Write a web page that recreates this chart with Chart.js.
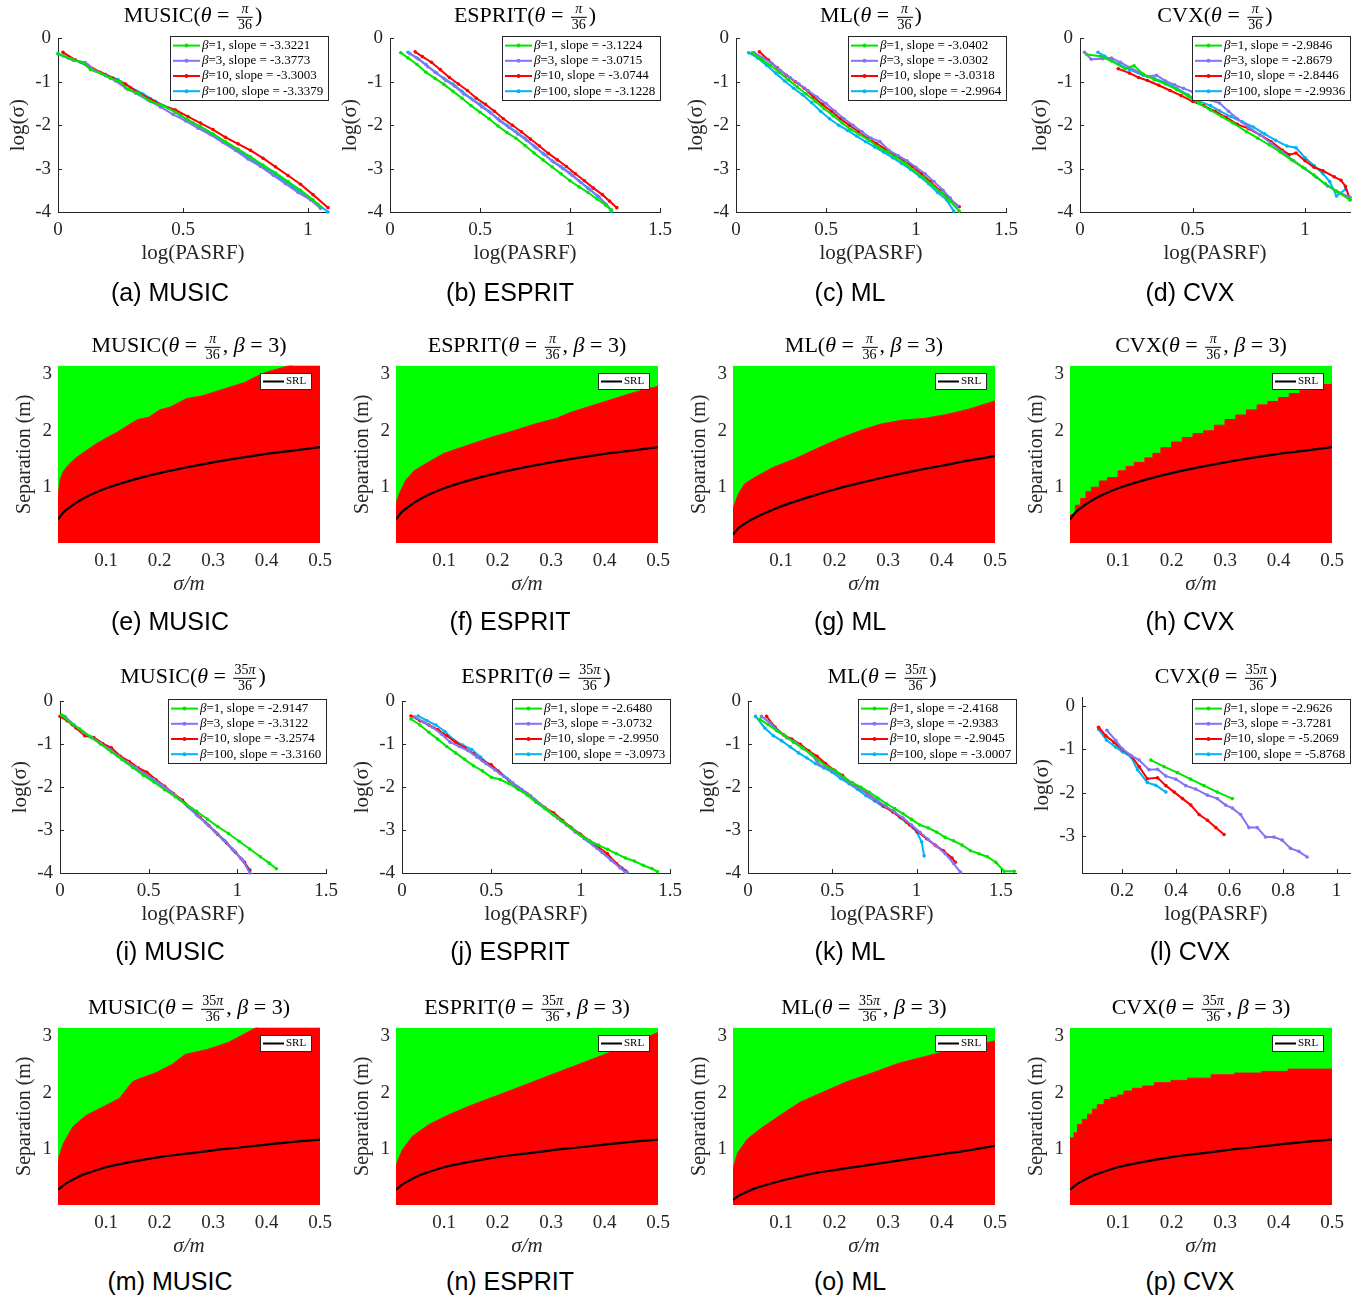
<!DOCTYPE html>
<html><head><meta charset="utf-8">
<script src="https://cdn.jsdelivr.net/npm/chart.js@4.4.1/dist/chart.umd.min.js"></script>
<style>
html,body{margin:0;padding:0;background:#fff;}
body{position:relative;width:1369px;height:1298px;overflow:hidden;}
canvas{position:absolute;}
.ttl{position:absolute;font-family:'Liberation Serif','Times New Roman',serif;font-size:22px;color:#000;white-space:nowrap;transform:translate(-50%,-50%);line-height:1;}
.frac{display:inline-block;vertical-align:middle;text-align:center;font-size:14px;line-height:1.05;margin:0 2px;}
.frac span{display:block;padding:0 1px;}
.frac span.num{border-bottom:1px solid #000;}
.cap{position:absolute;font-family:'Liberation Sans',Arial,sans-serif;font-size:25px;color:#000;white-space:nowrap;transform:translate(-50%,-50%);}
</style></head><body>
<script>
// ---------------- DATA ----------------
const METHODS = ['MUSIC', 'ESPRIT', 'ML', 'CVX'];
const BETAS = [1, 3, 10, 100];

const LOG_Y_TICKS = [0, -1, -2, -3, -4];
const LOG_X_TICKS_SHORT = [0, 0.5, 1];
const LOG_X_TICKS = [0, 0.5, 1, 1.5];
const CVX35_X_TICKS = [0.2, 0.4, 0.6, 0.8, 1];
const CVX35_Y_TICKS = [0, -1, -2, -3];
const MAP_X_TICKS = [0.1, 0.2, 0.3, 0.4, 0.5];
const MAP_Y_TICKS = [1, 2, 3];

const SLOPES_A = ['-3.3221', '-3.3773', '-3.3003', '-3.3379'];
const SLOPES_B = ['-3.1224', '-3.0715', '-3.0744', '-3.1228'];
const SLOPES_C = ['-3.0402', '-3.0302', '-3.0318', '-2.9964'];
const SLOPES_D = ['-2.9846', '-2.8679', '-2.8446', '-2.9936'];
const SLOPES_I = ['-2.9147', '-3.3122', '-3.2574', '-3.3160'];
const SLOPES_J = ['-2.6480', '-3.0732', '-2.9950', '-3.0973'];
const SLOPES_K = ['-2.4168', '-2.9383', '-2.9045', '-3.0007'];
const SLOPES_L = ['-2.9626', '-3.7281', '-5.2069', '-5.8768'];

// (a) MUSIC theta=pi/36
const A1X = [0.00,0.05,0.10,0.13,0.17,0.21,0.25,0.28,0.32,0.37,0.42,0.47,0.52,0.57,0.62,0.67,0.72,0.77,0.82,0.87,0.92,0.97,1.02,1.05];
const A1Y = [-0.36,-0.47,-0.56,-0.72,-0.80,-0.92,-1.00,-1.18,-1.26,-1.45,-1.55,-1.70,-1.88,-2.03,-2.20,-2.38,-2.55,-2.73,-2.92,-3.10,-3.30,-3.50,-3.72,-3.88];
const A3X = [0.02,0.06,0.11,0.15,0.19,0.23,0.27,0.31,0.36,0.41,0.46,0.51,0.56,0.61,0.66,0.71,0.76,0.81,0.86,0.91,0.96,1.01,1.05];
const A3Y = [-0.40,-0.50,-0.56,-0.75,-0.86,-0.98,-1.14,-1.26,-1.42,-1.58,-1.75,-1.90,-2.07,-2.22,-2.40,-2.58,-2.78,-2.95,-3.15,-3.35,-3.55,-3.72,-3.92];
const A10X = [0.02,0.07,0.12,0.17,0.22,0.27,0.32,0.37,0.42,0.47,0.52,0.57,0.62,0.67,0.72,0.77,0.82,0.87,0.92,0.97,1.02,1.08];
const A10Y = [-0.32,-0.50,-0.62,-0.78,-0.92,-1.05,-1.25,-1.40,-1.55,-1.65,-1.80,-1.95,-2.10,-2.28,-2.43,-2.58,-2.76,-2.96,-3.16,-3.36,-3.60,-3.90];
const A100X = [0.00,0.04,0.09,0.14,0.19,0.24,0.29,0.34,0.39,0.44,0.49,0.54,0.59,0.64,0.69,0.74,0.79,0.84,0.89,0.94,0.99,1.04,1.08];
const A100Y = [-0.35,-0.45,-0.55,-0.72,-0.83,-0.95,-1.13,-1.28,-1.45,-1.60,-1.78,-1.95,-2.12,-2.30,-2.48,-2.66,-2.85,-3.04,-3.22,-3.42,-3.62,-3.82,-4.00];

// (b) ESPRIT theta=pi/36
const B1X = [0.06,0.10,0.15,0.20,0.25,0.30,0.35,0.40,0.45,0.50,0.55,0.60,0.65,0.70,0.75,0.80,0.85,0.90,0.95,1.00,1.05,1.10,1.15,1.20,1.23];
const B1Y = [-0.33,-0.45,-0.60,-0.78,-0.92,-1.06,-1.22,-1.38,-1.55,-1.70,-1.85,-2.02,-2.17,-2.30,-2.47,-2.64,-2.80,-2.96,-3.12,-3.28,-3.42,-3.55,-3.70,-3.85,-3.96];
const B3X = [0.11,0.16,0.21,0.26,0.31,0.36,0.41,0.46,0.51,0.56,0.61,0.66,0.71,0.76,0.81,0.86,0.91,0.96,1.01,1.06,1.11,1.16,1.23];
const B3Y = [-0.35,-0.48,-0.65,-0.80,-0.97,-1.10,-1.28,-1.42,-1.58,-1.72,-1.90,-2.05,-2.20,-2.35,-2.52,-2.68,-2.85,-3.00,-3.15,-3.32,-3.48,-3.65,-3.95];
const B10X = [0.14,0.18,0.23,0.28,0.33,0.38,0.43,0.48,0.53,0.58,0.63,0.68,0.73,0.78,0.83,0.88,0.93,0.98,1.03,1.08,1.13,1.18,1.22,1.26];
const B10Y = [-0.31,-0.42,-0.55,-0.72,-0.90,-1.05,-1.20,-1.38,-1.52,-1.68,-1.85,-2.00,-2.15,-2.32,-2.48,-2.65,-2.80,-2.95,-3.12,-3.28,-3.45,-3.60,-3.75,-3.90];
const B100X = [0.10,0.15,0.20,0.25,0.30,0.35,0.40,0.45,0.50,0.55,0.60,0.65,0.70,0.75,0.80,0.85,0.90,0.95,1.00,1.05,1.10,1.15,1.20,1.23];
const B100Y = [-0.32,-0.45,-0.60,-0.78,-0.92,-1.05,-1.22,-1.38,-1.52,-1.68,-1.85,-2.00,-2.15,-2.30,-2.48,-2.65,-2.82,-2.95,-3.10,-3.28,-3.45,-3.62,-3.82,-3.98];

// (c) ML theta=pi/36
const C1X = [0.09,0.14,0.19,0.24,0.29,0.34,0.39,0.44,0.49,0.54,0.59,0.64,0.69,0.74,0.79,0.84,0.89,0.94,0.99,1.04,1.09,1.14,1.19,1.24];
const C1Y = [-0.33,-0.48,-0.62,-0.78,-0.95,-1.12,-1.28,-1.45,-1.62,-1.78,-1.95,-2.10,-2.22,-2.35,-2.50,-2.62,-2.75,-2.88,-3.05,-3.20,-3.38,-3.55,-3.75,-3.98];
const C3X = [0.10,0.15,0.20,0.25,0.30,0.35,0.40,0.45,0.50,0.55,0.60,0.65,0.70,0.75,0.80,0.85,0.90,0.95,1.00,1.05,1.10,1.15,1.19,1.23];
const C3Y = [-0.33,-0.45,-0.58,-0.75,-0.90,-1.05,-1.20,-1.35,-1.50,-1.68,-1.85,-2.00,-2.15,-2.30,-2.38,-2.58,-2.70,-2.82,-2.97,-3.12,-3.30,-3.50,-3.68,-3.87];
const C10X = [0.13,0.18,0.23,0.28,0.33,0.38,0.43,0.48,0.53,0.58,0.63,0.68,0.73,0.78,0.83,0.88,0.93,0.98,1.03,1.08,1.13,1.18,1.24];
const C10Y = [-0.31,-0.50,-0.68,-0.85,-1.00,-1.15,-1.35,-1.52,-1.68,-1.85,-2.00,-2.15,-2.30,-2.42,-2.55,-2.68,-2.80,-2.95,-3.12,-3.30,-3.50,-3.68,-3.88];
const C100X = [0.07,0.12,0.17,0.22,0.27,0.32,0.37,0.42,0.47,0.52,0.57,0.62,0.67,0.72,0.77,0.82,0.87,0.92,0.97,1.02,1.07,1.12,1.17,1.21];
const C100Y = [-0.33,-0.45,-0.62,-0.80,-0.98,-1.15,-1.30,-1.48,-1.68,-1.85,-2.00,-2.12,-2.25,-2.38,-2.50,-2.62,-2.75,-2.88,-3.02,-3.18,-3.35,-3.55,-3.72,-3.98];

// (d) CVX theta=pi/36
const D1X = [0.03,0.09,0.14,0.20,0.24,0.28,0.33,0.38,0.43,0.48,0.53,0.58,0.63,0.68,0.74,0.79,0.84,0.89,0.94,0.99,1.04,1.09,1.14,1.20];
const D1Y = [-0.37,-0.41,-0.52,-0.70,-0.63,-0.82,-0.95,-1.05,-1.18,-1.33,-1.50,-1.65,-1.80,-1.95,-2.15,-2.30,-2.45,-2.62,-2.80,-2.97,-3.15,-3.35,-3.52,-3.72];
const D3X = [0.02,0.05,0.10,0.14,0.18,0.22,0.26,0.30,0.34,0.38,0.42,0.46,0.50,0.54,0.58,0.62,0.66,0.70,0.75,0.80,0.85,0.90,0.95,1.00,1.05,1.10,1.15,1.20];
const D3Y = [-0.32,-0.48,-0.47,-0.45,-0.55,-0.67,-0.78,-0.88,-0.85,-0.98,-1.07,-1.15,-1.23,-1.30,-1.42,-1.49,-1.68,-1.85,-2.05,-2.22,-2.42,-2.62,-2.82,-3.00,-3.20,-3.40,-3.55,-3.66];
const D10X = [0.17,0.22,0.26,0.30,0.35,0.40,0.45,0.50,0.55,0.60,0.65,0.70,0.75,0.80,0.85,0.90,0.93,0.96,1.00,1.04,1.08,1.13,1.16,1.18,1.20];
const D10Y = [-0.70,-0.80,-0.90,-0.97,-1.08,-1.20,-1.32,-1.45,-1.55,-1.68,-1.82,-1.98,-2.08,-2.22,-2.38,-2.58,-2.68,-2.64,-2.82,-2.97,-3.05,-3.19,-3.27,-3.41,-3.72];
const D100X = [0.08,0.11,0.14,0.17,0.22,0.28,0.33,0.38,0.43,0.48,0.53,0.58,0.62,0.67,0.72,0.77,0.82,0.87,0.92,0.96,1.00,1.04,1.08,1.11,1.14,1.18];
const D100Y = [-0.32,-0.41,-0.50,-0.59,-0.72,-0.85,-0.92,-1.02,-1.15,-1.30,-1.45,-1.55,-1.67,-1.80,-1.92,-2.04,-2.20,-2.35,-2.48,-2.52,-2.75,-2.93,-3.12,-3.30,-3.63,-3.48];

// (i) MUSIC theta=35pi/36
const I1X = [0.01,0.06,0.11,0.17,0.23,0.29,0.35,0.41,0.47,0.53,0.59,0.65,0.71,0.77,0.83,0.89,0.95,1.01,1.07,1.13,1.18,1.22];
const I1Y = [-0.32,-0.50,-0.64,-0.82,-1.00,-1.18,-1.36,-1.54,-1.72,-1.88,-2.06,-2.22,-2.40,-2.56,-2.74,-2.92,-3.08,-3.26,-3.44,-3.62,-3.77,-3.90];
const I3X = [0.03,0.08,0.13,0.18,0.23,0.28,0.33,0.38,0.43,0.48,0.53,0.58,0.63,0.68,0.73,0.78,0.83,0.88,0.93,0.98,1.03,1.07];
const I3Y = [-0.36,-0.55,-0.72,-0.85,-0.98,-1.12,-1.28,-1.42,-1.55,-1.70,-1.82,-1.97,-2.12,-2.30,-2.48,-2.68,-2.86,-3.06,-3.25,-3.48,-3.70,-4.00];
const I10X = [0.00,0.04,0.09,0.14,0.19,0.24,0.29,0.34,0.39,0.44,0.49,0.54,0.59,0.64,0.69,0.74,0.79,0.84,0.89,0.94,0.99,1.04,1.07];
const I10Y = [-0.35,-0.45,-0.62,-0.80,-0.84,-0.98,-1.08,-1.28,-1.40,-1.55,-1.65,-1.82,-1.98,-2.15,-2.30,-2.50,-2.70,-2.90,-3.10,-3.30,-3.52,-3.75,-3.95];
const I100X = [0.02,0.07,0.12,0.17,0.22,0.27,0.32,0.37,0.42,0.47,0.52,0.57,0.62,0.67,0.72,0.77,0.82,0.87,0.92,0.97,1.02,1.07];
const I100Y = [-0.34,-0.55,-0.68,-0.82,-0.95,-1.10,-1.25,-1.40,-1.52,-1.66,-1.80,-1.94,-2.10,-2.27,-2.45,-2.64,-2.82,-3.02,-3.22,-3.44,-3.66,-3.92];

// (j) ESPRIT theta=35pi/36
const J1X = [0.05,0.10,0.15,0.20,0.25,0.30,0.35,0.40,0.45,0.50,0.55,0.60,0.65,0.70,0.75,0.80,0.85,0.90,0.95,1.00,1.05,1.10,1.15,1.20,1.25,1.30,1.35,1.40,1.43];
const J1Y = [-0.41,-0.55,-0.72,-0.88,-1.05,-1.20,-1.35,-1.50,-1.62,-1.77,-1.82,-1.92,-2.05,-2.18,-2.35,-2.50,-2.65,-2.80,-2.96,-3.12,-3.25,-3.35,-3.45,-3.55,-3.65,-3.72,-3.82,-3.90,-3.97];
const J3X = [0.07,0.12,0.17,0.22,0.27,0.32,0.37,0.42,0.47,0.52,0.57,0.62,0.67,0.72,0.77,0.82,0.87,0.92,0.97,1.02,1.07,1.12,1.17,1.22,1.25];
const J3Y = [-0.36,-0.48,-0.60,-0.76,-0.95,-1.05,-1.15,-1.30,-1.45,-1.60,-1.75,-1.90,-2.05,-2.20,-2.38,-2.55,-2.72,-2.88,-3.05,-3.20,-3.35,-3.52,-3.70,-3.88,-3.98];
const J10X = [0.05,0.10,0.15,0.20,0.25,0.30,0.35,0.40,0.45,0.50,0.55,0.60,0.65,0.70,0.75,0.80,0.85,0.90,0.95,1.00,1.05,1.10,1.15,1.20,1.25];
const J10Y = [-0.34,-0.45,-0.55,-0.66,-0.80,-0.95,-1.08,-1.22,-1.38,-1.48,-1.68,-1.85,-2.00,-2.15,-2.32,-2.48,-2.60,-2.78,-2.95,-3.10,-3.25,-3.40,-3.55,-3.78,-3.95];
const J100X = [0.09,0.14,0.19,0.24,0.29,0.34,0.39,0.44,0.49,0.54,0.59,0.64,0.69,0.74,0.79,0.84,0.89,0.94,0.99,1.04,1.09,1.14,1.19,1.23,1.26];
const J100Y = [-0.34,-0.45,-0.55,-0.70,-0.90,-1.02,-1.12,-1.30,-1.48,-1.62,-1.80,-1.98,-2.12,-2.28,-2.45,-2.62,-2.78,-2.92,-3.08,-3.25,-3.42,-3.58,-3.75,-3.88,-3.98];

// (k) ML theta=35pi/36
const K1X = [0.07,0.12,0.17,0.22,0.27,0.32,0.37,0.42,0.47,0.52,0.57,0.62,0.67,0.72,0.77,0.82,0.87,0.92,0.97,1.02,1.07,1.12,1.17,1.22,1.27,1.32,1.37,1.42,1.47,1.52,1.58];
const K1Y = [-0.42,-0.54,-0.68,-0.80,-0.95,-1.08,-1.22,-1.38,-1.52,-1.62,-1.78,-1.90,-2.00,-2.12,-2.25,-2.38,-2.50,-2.62,-2.75,-2.88,-2.95,-3.05,-3.17,-3.25,-3.35,-3.48,-3.55,-3.62,-3.75,-3.96,-3.96];
const K3X = [0.08,0.13,0.18,0.23,0.28,0.33,0.38,0.42,0.47,0.52,0.57,0.62,0.67,0.72,0.77,0.82,0.87,0.92,0.97,1.02,1.07,1.12,1.17,1.22,1.26];
const K3Y = [-0.35,-0.50,-0.70,-0.85,-0.95,-1.10,-1.25,-1.47,-1.55,-1.65,-1.80,-1.95,-2.05,-2.20,-2.32,-2.45,-2.58,-2.72,-2.88,-3.05,-3.22,-3.38,-3.55,-3.78,-3.98];
const K10X = [0.11,0.16,0.21,0.26,0.31,0.36,0.41,0.46,0.51,0.56,0.61,0.66,0.71,0.76,0.81,0.86,0.91,0.96,1.01,1.06,1.11,1.16,1.21,1.23];
const K10Y = [-0.35,-0.60,-0.78,-0.88,-1.00,-1.15,-1.28,-1.45,-1.60,-1.72,-1.90,-2.02,-2.15,-2.30,-2.45,-2.58,-2.72,-2.88,-3.05,-3.20,-3.35,-3.48,-3.65,-3.75];
const K100X = [0.045,0.10,0.15,0.20,0.25,0.30,0.35,0.40,0.45,0.50,0.55,0.60,0.65,0.70,0.75,0.80,0.86,0.90,0.94,0.98,1.00,1.03,1.045];
const K100Y = [-0.35,-0.62,-0.80,-0.92,-1.06,-1.20,-1.32,-1.45,-1.55,-1.65,-1.80,-1.92,-2.05,-2.20,-2.32,-2.45,-2.55,-2.70,-2.82,-2.95,-3.04,-3.27,-3.60];

// (l) CVX theta=35pi/36
const L1X = [0.307,0.356,0.406,0.455,0.505,0.555,0.611];
const L1Y = [-1.25,-1.40,-1.54,-1.69,-1.84,-1.99,-2.14];
const L3X = [0.143,0.176,0.201,0.232,0.263,0.300,0.332,0.363,0.400,0.437,0.474,0.518,0.555,0.586,0.611,0.642,0.673,0.704,0.735,0.766,0.797,0.828,0.859,0.890];
const L3Y = [-0.56,-0.80,-0.99,-1.14,-1.25,-1.47,-1.46,-1.62,-1.69,-1.84,-1.92,-2.06,-2.14,-2.29,-2.36,-2.51,-2.81,-2.81,-3.03,-3.03,-3.10,-3.29,-3.36,-3.49];
const L10X = [0.112,0.139,0.170,0.201,0.235,0.263,0.294,0.332,0.363,0.394,0.425,0.456,0.487,0.518,0.549,0.580];
const L10Y = [-0.49,-0.69,-0.84,-1.01,-1.16,-1.40,-1.68,-1.66,-1.84,-1.99,-2.14,-2.29,-2.51,-2.64,-2.81,-2.97];
const L100X = [0.112,0.142,0.176,0.201,0.232,0.257,0.294,0.325,0.363];
const L100Y = [-0.54,-0.79,-0.95,-1.06,-1.17,-1.47,-1.77,-1.83,-1.99];

// Resolution maps: boundary between green (resolved) and red (not resolved)
const E_BX = [0.01,0.014,0.02,0.03,0.045,0.06,0.08,0.1,0.12,0.135,0.15,0.16,0.18,0.2,0.22,0.24,0.25,0.28,0.3,0.34,0.36,0.38,0.4,0.43,0.46,0.5];
const E_BY = [0.85,1.13,1.28,1.4,1.53,1.63,1.76,1.87,1.97,2.06,2.15,2.2,2.24,2.37,2.42,2.52,2.57,2.62,2.68,2.8,2.86,2.96,3.04,3.12,3.2,3.3];
const F_BX = [0.01,0.016,0.028,0.044,0.068,0.1,0.14,0.19,0.23,0.27,0.31,0.335,0.375,0.415,0.455,0.5];
const F_BY = [0.71,0.88,1.12,1.29,1.43,1.6,1.73,1.89,2.0,2.12,2.22,2.32,2.44,2.56,2.68,2.79];
const G_BX = [0.01,0.02,0.032,0.052,0.085,0.125,0.166,0.206,0.247,0.287,0.328,0.369,0.41,0.45,0.5];
const G_BY = [0.62,0.88,1.06,1.18,1.35,1.5,1.68,1.85,2.0,2.12,2.19,2.22,2.29,2.38,2.53];
const H_BX = [0.01,0.02,0.03,0.04,0.05,0.065,0.08,0.1,0.115,0.13,0.15,0.165,0.18,0.2,0.22,0.24,0.26,0.28,0.3,0.32,0.34,0.36,0.38,0.4,0.42,0.44,0.46,0.48,0.5];
const H_BY = [0.51,0.68,0.8,0.92,1.0,1.11,1.17,1.29,1.37,1.44,1.52,1.6,1.7,1.8,1.88,1.95,2.0,2.1,2.2,2.28,2.37,2.46,2.52,2.59,2.66,2.72,2.77,2.82,2.86];
const M_BX = [0.01,0.02,0.038,0.063,0.094,0.125,0.137,0.15,0.16,0.192,0.223,0.248,0.29,0.328,0.358,0.389,0.5];
const M_BY = [0.81,1.1,1.4,1.6,1.75,1.9,2.05,2.2,2.24,2.35,2.5,2.68,2.77,2.89,3.04,3.2,3.3];
const N_BX = [0.01,0.022,0.041,0.072,0.109,0.146,0.196,0.246,0.295,0.345,0.395,0.444,0.5];
const N_BY = [0.72,0.99,1.23,1.44,1.61,1.76,1.94,2.12,2.3,2.48,2.66,2.84,3.07];
const O_BX = [0.01,0.019,0.037,0.061,0.098,0.135,0.178,0.221,0.27,0.319,0.368,0.417,0.466,0.5];
const O_BY = [0.66,0.94,1.18,1.36,1.6,1.83,2.01,2.19,2.35,2.52,2.64,2.76,2.85,2.92];
const P_BX = [0.01,0.0175,0.024,0.033,0.043,0.052,0.061,0.074,0.086,0.099,0.111,0.127,0.146,0.168,0.199,0.23,0.274,0.318,0.368,0.418,0.468,0.5];
const P_BY = [1.02,1.2,1.29,1.44,1.53,1.62,1.71,1.79,1.88,1.92,1.96,2.03,2.08,2.12,2.18,2.22,2.26,2.32,2.35,2.38,2.42,2.42];

// SRL curves
const SRL_X = [0.01,0.02,0.03,0.04,0.05,0.07,0.1,0.15,0.2,0.25,0.3,0.35,0.4,0.45,0.5];
const SRL_PI36_Y = [0.43,0.55,0.63,0.70,0.76,0.86,0.98,1.13,1.25,1.35,1.44,1.52,1.59,1.65,1.71];
const SRL_ML_PI36_Y = [0.16,0.27,0.34,0.40,0.45,0.54,0.66,0.82,0.96,1.08,1.19,1.29,1.38,1.47,1.55];
const SRL_35PI_Y = [0.28,0.36,0.42,0.47,0.52,0.59,0.68,0.78,0.86,0.92,0.98,1.03,1.08,1.13,1.17];
const SRL_ML_35PI_Y = [0.10,0.17,0.22,0.26,0.30,0.36,0.44,0.55,0.63,0.70,0.77,0.84,0.91,0.98,1.06];

// ---------------- STYLE / LAYOUT ----------------
const FONT = "'Liberation Serif','Times New Roman',serif";
const AX = '#262626';
const SERIES_COLORS = ['#00e600', '#8473f5', '#ff0000', '#00b4f5'];
const RED = '#ff0000', GREEN = '#00ff00';
Chart.defaults.font.family = FONT;

const innerTicks = {
  id: 'innerTicks',
  afterDraw(chart) {
    const {ctx, chartArea: ca, scales: {x, y}} = chart;
    ctx.save(); ctx.strokeStyle = AX; ctx.lineWidth = 1; ctx.beginPath();
    x.ticks.forEach(t => { const px = Math.round(x.getPixelForValue(t.value)) + 0.5; ctx.moveTo(px, ca.bottom); ctx.lineTo(px, ca.bottom - 4); });
    y.ticks.forEach(t => { const py = Math.round(y.getPixelForValue(t.value)) + 0.5; ctx.moveTo(ca.left, py); ctx.lineTo(ca.left + 4, py); });
    ctx.stroke(); ctx.restore();
  }
};

const boxLegend = {
  id: 'boxLegend',
  afterDraw(chart, args, o) {
    const items = o.items; if (!items) return;
    const ctx = chart.ctx, ca = chart.chartArea;
    const fN = o.fontSize + 'px ' + FONT, fI = 'italic ' + o.fontSize + 'px ' + FONT;
    ctx.save();
    let maxW = 0;
    items.forEach(it => {
      ctx.font = fI; it._w1 = it.sym ? ctx.measureText(it.sym).width : 0;
      ctx.font = fN; it._w = it._w1 + ctx.measureText(it.rest).width;
      maxW = Math.max(maxW, it._w);
    });
    const bw = Math.round(3 + o.sample + 2 + maxW + 5), bh = Math.round(items.length * o.rowH + 3);
    const bx = Math.round(ca.right - o.dr - bw), by = Math.round(ca.top + o.dt);
    ctx.fillStyle = '#fff'; ctx.fillRect(bx, by, bw, bh);
    ctx.strokeStyle = AX; ctx.lineWidth = 1; ctx.strokeRect(bx + 0.5, by + 0.5, bw, bh);
    items.forEach((it, i) => {
      const cy = by + 2 + o.rowH * (i + 0.5);
      ctx.strokeStyle = it.color; ctx.lineWidth = o.lw;
      ctx.beginPath(); ctx.moveTo(bx + 3, cy); ctx.lineTo(bx + 3 + o.sample, cy); ctx.stroke();
      if (o.marker) { ctx.fillStyle = it.color; ctx.beginPath(); ctx.arc(bx + 3 + o.sample / 2, cy, 2, 0, Math.PI * 2); ctx.fill(); }
      ctx.fillStyle = '#000'; ctx.textBaseline = 'middle'; ctx.textAlign = 'left';
      let tx = bx + 3 + o.sample + 2;
      if (it.sym) { ctx.font = fI; ctx.fillText(it.sym, tx, cy); tx += it._w1; }
      ctx.font = fN; ctx.fillText(it.rest, tx, cy);
    });
    ctx.restore();
  }
};

function scaleCfg(axis, min, max, ticks, title, italic, size, showBorder, pad, titleSize) {
  return {
    type: 'linear', min: min, max: max,
    afterBuildTicks: s => { s.ticks = ticks.map(v => ({value: v})); },
    afterFit: s => { if (axis === 'x') s.height = size; else s.width = size; },
    grid: {display: false, drawTicks: false},
    border: {display: showBorder, color: AX, width: 1},
    ticks: {autoSkip: false, maxRotation: 0, padding: pad, color: AX, font: {family: FONT, size: 19}, callback: v => String(v)},
    title: {display: true, text: title, color: AX, font: {family: FONT, size: titleSize, style: italic ? 'italic' : 'normal'}, padding: {top: 0, bottom: 2}}
  };
}

function addCanvas(L, R, T, B, YW, XH, PT, PR) {
  const cv = document.createElement('canvas');
  const w = (R - L) + YW + PR, h = (B - T) + PT + XH;
  cv.width = w; cv.height = h;
  cv.style.left = (L - YW) + 'px'; cv.style.top = (T - PT) + 'px';
  cv.style.width = w + 'px'; cv.style.height = h + 'px';
  document.body.appendChild(cv);
  return cv;
}

function fracHTML(num) { return '<span class="frac"><span class="num">' + num + '</span><span>36</span></span>'; }
function addTitle(html, x, y) { const d = document.createElement('div'); d.className = 'ttl'; d.innerHTML = html; d.style.left = x + 'px'; d.style.top = y + 'px'; document.body.appendChild(d); }
function addCaption(text, x, y) { const d = document.createElement('div'); d.className = 'cap'; d.textContent = text; d.style.left = x + 'px'; d.style.top = y + 'px'; document.body.appendChild(d); }

function linePanel(p) {
  const YW = 52, XH = 56, PT = 14, PR = 26;
  const cv = addCanvas(p.L, p.R, p.T, p.B, YW, XH, PT, PR);
  const datasets = p.series.map((s, i) => ({
    label: 'β=' + BETAS[i],
    data: s[0].map((xv, k) => ({x: xv, y: s[1][k]})),
    borderColor: SERIES_COLORS[i], backgroundColor: SERIES_COLORS[i],
    borderWidth: 2, pointRadius: 1.8, pointBorderWidth: 0, pointHoverRadius: 0,
    fill: false, tension: 0, clip: 5
  }));
  new Chart(cv, {
    type: 'line', data: {datasets},
    options: {
      responsive: false, animation: false, devicePixelRatio: 1, events: [],
      layout: {padding: {left: 0, top: PT, right: PR, bottom: 0}},
      plugins: {
        legend: {display: false}, tooltip: {enabled: false},
        boxLegend: {items: BETAS.map((b, i) => ({color: SERIES_COLORS[i], sym: 'β', rest: '=' + b + ', slope = ' + p.slopes[i]})),
          fontSize: 13, rowH: 15.2, sample: 27, lw: 2, marker: true, dr: 0, dt: p.dt}
      },
      scales: {
        x: scaleCfg('x', p.xmin, p.xmax, p.xt, 'log(PASRF)', false, XH, true, 7, 21),
        y: scaleCfg('y', p.ymin, p.ymax, p.yt, 'log(σ)', false, YW, true, 7, 21)
      }
    },
    plugins: [innerTicks, boxLegend]
  });
  addTitle(p.title, (p.L + p.R) / 2, p.ty);
}

function mapPanel(p) {
  const YW = 45, XH = 56, PT = 14, PR = 26;
  const cv = addCanvas(p.L, p.R, p.T, p.B, YW, XH, PT, PR);
  const bnd = p.bx.map((xv, k) => ({x: xv, y: p.by[k]}));
  const srl = SRL_X.map((xv, k) => ({x: xv, y: p.srl[k]}));
  new Chart(cv, {
    type: 'line',
    data: {datasets: [
      {label: 'SRL', data: srl, borderColor: '#000', borderWidth: 2.2, pointRadius: 0, fill: false, cubicInterpolationMode: 'monotone'},
      {label: 'not resolved', data: bnd, fill: 'start', backgroundColor: RED, borderColor: RED, borderWidth: 1, pointRadius: 0, stepped: p.stepped || false},
      {label: 'resolved', data: bnd, fill: 'end', backgroundColor: GREEN, borderWidth: 0, pointRadius: 0, stepped: p.stepped || false}
    ]},
    options: {
      responsive: false, animation: false, devicePixelRatio: 1, events: [],
      layout: {padding: {left: 0, top: PT, right: PR, bottom: 0}},
      plugins: {
        legend: {display: false}, tooltip: {enabled: false},
        filler: {drawTime: 'beforeDatasetsDraw'},
        boxLegend: {items: [{color: '#000', sym: '', rest: 'SRL'}], fontSize: 11, rowH: 13, sample: 21, lw: 2, marker: false, dr: 9, dt: 8}
      },
      scales: {
        x: scaleCfg('x', 0.01, 0.5, MAP_X_TICKS, 'σ/m', true, XH, false, 7, 21),
        y: scaleCfg('y', 0.01, 3.16, MAP_Y_TICKS, 'Separation (m)', false, YW, false, 6, 20)
      }
    },
    plugins: [boxLegend]
  });
  addTitle(p.title, (p.L + p.R) / 2, p.ty);
}

const PI36 = fracHTML('<i>π</i>');
const PI3536 = fracHTML('35<i>π</i>');
const lineTitle = (m, f) => m + '(<i>θ</i> = ' + f + ')';
const mapTitle = (m, f) => m + '(<i>θ</i> = ' + f + ', <i>β</i> = 3)';

// Row 1
linePanel({L: 58, R: 328, T: 34, B: 212, xmin: 0, xmax: 1.08, ymin: -4, ymax: 0, xt: LOG_X_TICKS_SHORT, yt: LOG_Y_TICKS, dt: -2, ty: 17,
  series: [[A1X, A1Y], [A3X, A3Y], [A10X, A10Y], [A100X, A100Y]], slopes: SLOPES_A, title: lineTitle(METHODS[0], PI36)});
linePanel({L: 390, R: 660, T: 34, B: 212, xmin: 0, xmax: 1.5, ymin: -4, ymax: 0, xt: LOG_X_TICKS, yt: LOG_Y_TICKS, dt: -2, ty: 17,
  series: [[B1X, B1Y], [B3X, B3Y], [B10X, B10Y], [B100X, B100Y]], slopes: SLOPES_B, title: lineTitle(METHODS[1], PI36)});
linePanel({L: 736, R: 1006, T: 34, B: 212, xmin: 0, xmax: 1.5, ymin: -4, ymax: 0, xt: LOG_X_TICKS, yt: LOG_Y_TICKS, dt: -2, ty: 17,
  series: [[C1X, C1Y], [C3X, C3Y], [C10X, C10Y], [C100X, C100Y]], slopes: SLOPES_C, title: lineTitle(METHODS[2], PI36)});
linePanel({L: 1080, R: 1350, T: 34, B: 212, xmin: 0, xmax: 1.2, ymin: -4, ymax: 0, xt: LOG_X_TICKS_SHORT, yt: LOG_Y_TICKS, dt: -2, ty: 17,
  series: [[D1X, D1Y], [D3X, D3Y], [D10X, D10Y], [D100X, D100Y]], slopes: SLOPES_D, title: lineTitle(METHODS[3], PI36)});

// Row 2
mapPanel({L: 58, R: 320, T: 362, B: 543, bx: E_BX, by: E_BY, srl: SRL_PI36_Y, ty: 347, title: mapTitle(METHODS[0], PI36)});
mapPanel({L: 396, R: 658, T: 362, B: 543, bx: F_BX, by: F_BY, srl: SRL_PI36_Y, ty: 347, title: mapTitle(METHODS[1], PI36)});
mapPanel({L: 733, R: 995, T: 362, B: 543, bx: G_BX, by: G_BY, srl: SRL_ML_PI36_Y, ty: 347, title: mapTitle(METHODS[2], PI36)});
mapPanel({L: 1070, R: 1332, T: 362, B: 543, bx: H_BX, by: H_BY, srl: SRL_PI36_Y, stepped: 'before', ty: 347, title: mapTitle(METHODS[3], PI36)});

// Row 3
linePanel({L: 60, R: 326, T: 697, B: 873, xmin: 0, xmax: 1.5, ymin: -4, ymax: 0, xt: LOG_X_TICKS, yt: LOG_Y_TICKS, dt: -2, ty: 678,
  series: [[I1X, I1Y], [I3X, I3Y], [I10X, I10Y], [I100X, I100Y]], slopes: SLOPES_I, title: lineTitle(METHODS[0], PI3536)});
linePanel({L: 402, R: 670, T: 697, B: 873, xmin: 0, xmax: 1.5, ymin: -4, ymax: 0, xt: LOG_X_TICKS, yt: LOG_Y_TICKS, dt: -2, ty: 678,
  series: [[J1X, J1Y], [J3X, J3Y], [J10X, J10Y], [J100X, J100Y]], slopes: SLOPES_J, title: lineTitle(METHODS[1], PI3536)});
linePanel({L: 748, R: 1016, T: 697, B: 873, xmin: 0, xmax: 1.59, ymin: -4, ymax: 0, xt: LOG_X_TICKS, yt: LOG_Y_TICKS, dt: -2, ty: 678,
  series: [[K1X, K1Y], [K3X, K3Y], [K10X, K10Y], [K100X, K100Y]], slopes: SLOPES_K, title: lineTitle(METHODS[2], PI3536)});
linePanel({L: 1082, R: 1350, T: 693, B: 873, xmin: 0.05, xmax: 1.05, ymin: -3.86, ymax: 0.2, xt: CVX35_X_TICKS, yt: CVX35_Y_TICKS, dt: 2, ty: 678,
  series: [[L1X, L1Y], [L3X, L3Y], [L10X, L10Y], [L100X, L100Y]], slopes: SLOPES_L, title: lineTitle(METHODS[3], PI3536)});

// Row 4
mapPanel({L: 58, R: 320, T: 1024, B: 1205, bx: M_BX, by: M_BY, srl: SRL_35PI_Y, ty: 1009, title: mapTitle(METHODS[0], PI3536)});
mapPanel({L: 396, R: 658, T: 1024, B: 1205, bx: N_BX, by: N_BY, srl: SRL_35PI_Y, ty: 1009, title: mapTitle(METHODS[1], PI3536)});
mapPanel({L: 733, R: 995, T: 1024, B: 1205, bx: O_BX, by: O_BY, srl: SRL_ML_35PI_Y, ty: 1009, title: mapTitle(METHODS[2], PI3536)});
mapPanel({L: 1070, R: 1332, T: 1024, B: 1205, bx: P_BX, by: P_BY, srl: SRL_35PI_Y, stepped: 'after', ty: 1009, title: mapTitle(METHODS[3], PI3536)});

// Captions
const CAP_X = [170, 510, 850, 1190];
const CAP_Y = [292, 621, 951, 1281];
const LETTERS = 'abcdefghijklmnop';
for (let r = 0; r < 4; r++) for (let c = 0; c < 4; c++) addCaption('(' + LETTERS[r * 4 + c] + ') ' + METHODS[c], CAP_X[c], CAP_Y[r]);
</script>
</body></html>
